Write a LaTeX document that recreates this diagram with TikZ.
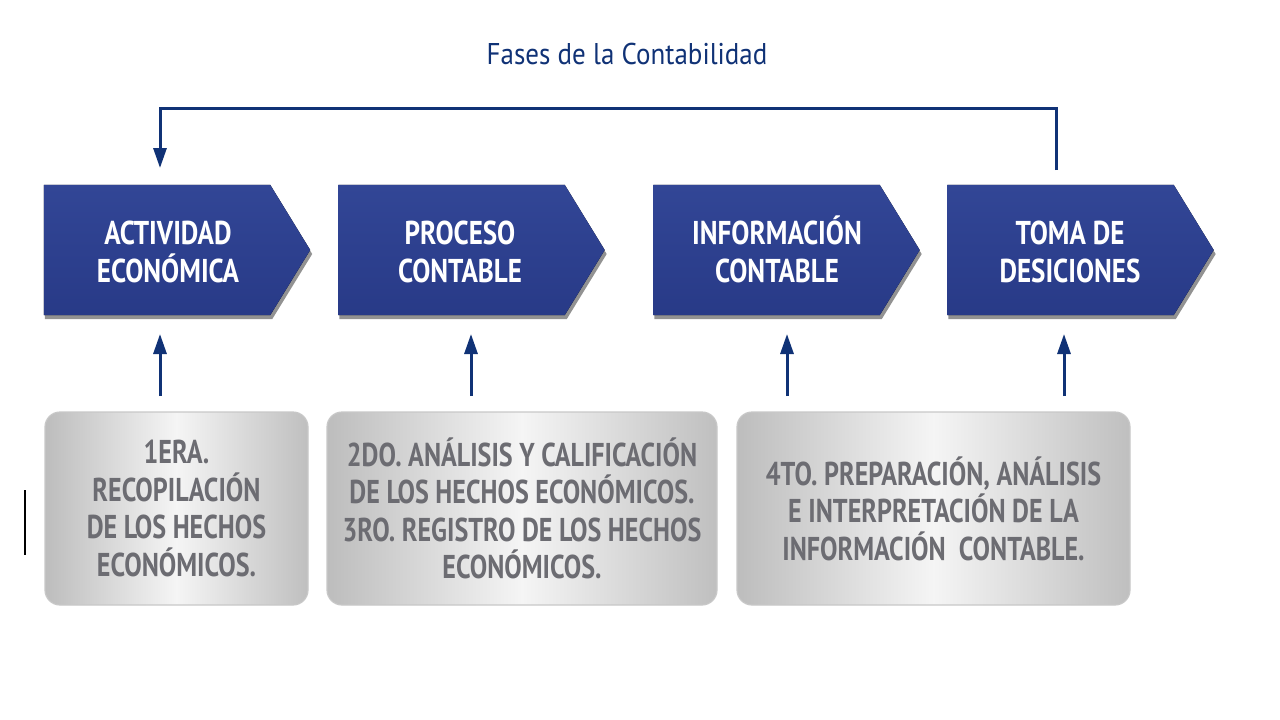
\documentclass[tikz,border=0pt]{standalone}
\usepackage{fontspec}
\newfontfamily\cf[FakeStretch=0.79]{PT Sans}
\newfontfamily\bluefont[FakeStretch=0.82]{PT Sans}
\newfontfamily\tf[FakeStretch=0.90]{PT Sans}
\usetikzlibrary{arrows.meta,calc}
\definecolor{navy}{RGB}{16,50,118}
\definecolor{boxbluetop}{RGB}{50,70,150}
\definecolor{boxbluebot}{RGB}{40,58,135}
\definecolor{txtgray}{RGB}{108,108,114}
\definecolor{gedge}{RGB}{200,200,200}
\newcommand{\mychev}[2]{%
  \fill[#2] (#1.north west) -- ($(#1.north east)+(-40,0)$) -- (#1.east) --
    ($(#1.south east)+(-40,0)$) -- (#1.south west) -- cycle;}
\newcommand{\mychevshadow}[1]{%
  \fill[black!85,opacity=0.5] ($(#1.north west)+(1,4)$) -- ($(#1.north east)+(-39,4)$) --
    ($(#1.east)+(2,4)$) -- ($(#1.south east)+(-38,4)$) -- ($(#1.south west)+(1,4)$) -- cycle;}
\tikzset{
  chevbox/.style={minimum width=266, minimum height=130, inner sep=0, draw=none},
  bluetxt/.style={text=white, align=center, font=\bluefont\bfseries\fontsize{33}{38}\selectfont},
  graybox/.style={rounded corners=15, draw=gedge, line width=1.2,
    left color=black!26, right color=black!25, middle color=black!4,
    align=center, text=txtgray, inner sep=0,
    font=\cf\bfseries\fontsize{33}{37.5}\selectfont, minimum height=193},
  uparrow/.style={draw=navy, line width=3, -{Triangle[length=20pt,width=13pt]}},
  fback/.style={draw=navy, line width=3, -{Triangle[length=20pt,width=13pt]}},
  titletxt/.style={text=navy, font=\tf\fontsize{30}{34}\selectfont}
}
\begin{document}
\begin{tikzpicture}[x=1pt,y=-1pt]
\useasboundingbox (0,0) rectangle (1280,720);
\fill[white] (0,0) rectangle (1280,720);

% title
\node[titletxt] (title) at (627,54) {Fases de la Contabilidad};

% chevron boxes
\node[chevbox] (b1) at (177,250) {};
\node[chevbox] (b2) at (471.5,250) {};
\node[chevbox] (b3) at (786.5,250) {};
\node[chevbox] (b4) at (1080.5,250) {};
\foreach \n in {b1,b2,b3,b4}{
  \mychevshadow{\n}
  \mychev{\n}{top color=boxbluetop, bottom color=boxbluebot}
}
\node[bluetxt, anchor=base] (t1) at (168,282) {ACTIVIDAD\\ECONÓMICA};
\node[bluetxt, anchor=base] (t2) at (460,282) {PROCESO\\CONTABLE};
\node[bluetxt, anchor=base] (t3) at (777,282) {INFORMACIÓN\\CONTABLE};
\node[bluetxt, anchor=base] (t4) at (1070,282) {TOMA DE\\DESICIONES};

% gray boxes
\node[graybox, minimum width=263] (g1) at (176.5,508.5)
  {1ERA.\\RECOPILACIÓN\\DE LOS HECHOS\\ECONÓMICOS.};
\node[graybox, minimum width=390] (g2) at (522,508.5)
  {2DO. ANÁLISIS Y CALIFICACIÓN\\DE LOS HECHOS ECONÓMICOS.\\3RO. REGISTRO DE LOS HECHOS\\ECONÓMICOS.};
\node[graybox, minimum width=393] (g3) at (933.5,508.5)
  {4TO. PREPARACIÓN, ANÁLISIS\\E INTERPRETACIÓN DE LA\\INFORMACIÓN\ \ CONTABLE.};

% up arrows
\coordinate (u1a) at (160,396); \coordinate (u1b) at (160,334);
\coordinate (u2a) at (471,396); \coordinate (u2b) at (471,334);
\coordinate (u3a) at (787,396); \coordinate (u3b) at (787,334);
\coordinate (u4a) at (1064,396); \coordinate (u4b) at (1064,334);
\draw[uparrow] (u1a) -- (u1b);
\draw[uparrow] (u2a) -- (u2b);
\draw[uparrow] (u3a) -- (u3b);
\draw[uparrow] (u4a) -- (u4b);

% feedback arrow
\coordinate (fa) at (1056,170);
\coordinate (fb) at (160,168);
\draw[fback] (fa) -- ++(0,-62) -| (fb);

% stray mark at left
\coordinate (m1) at (25,490); \coordinate (m2) at (25,555);
\draw[black, line width=1.2] (m1) -- (m2);
\end{tikzpicture}
\end{document}
